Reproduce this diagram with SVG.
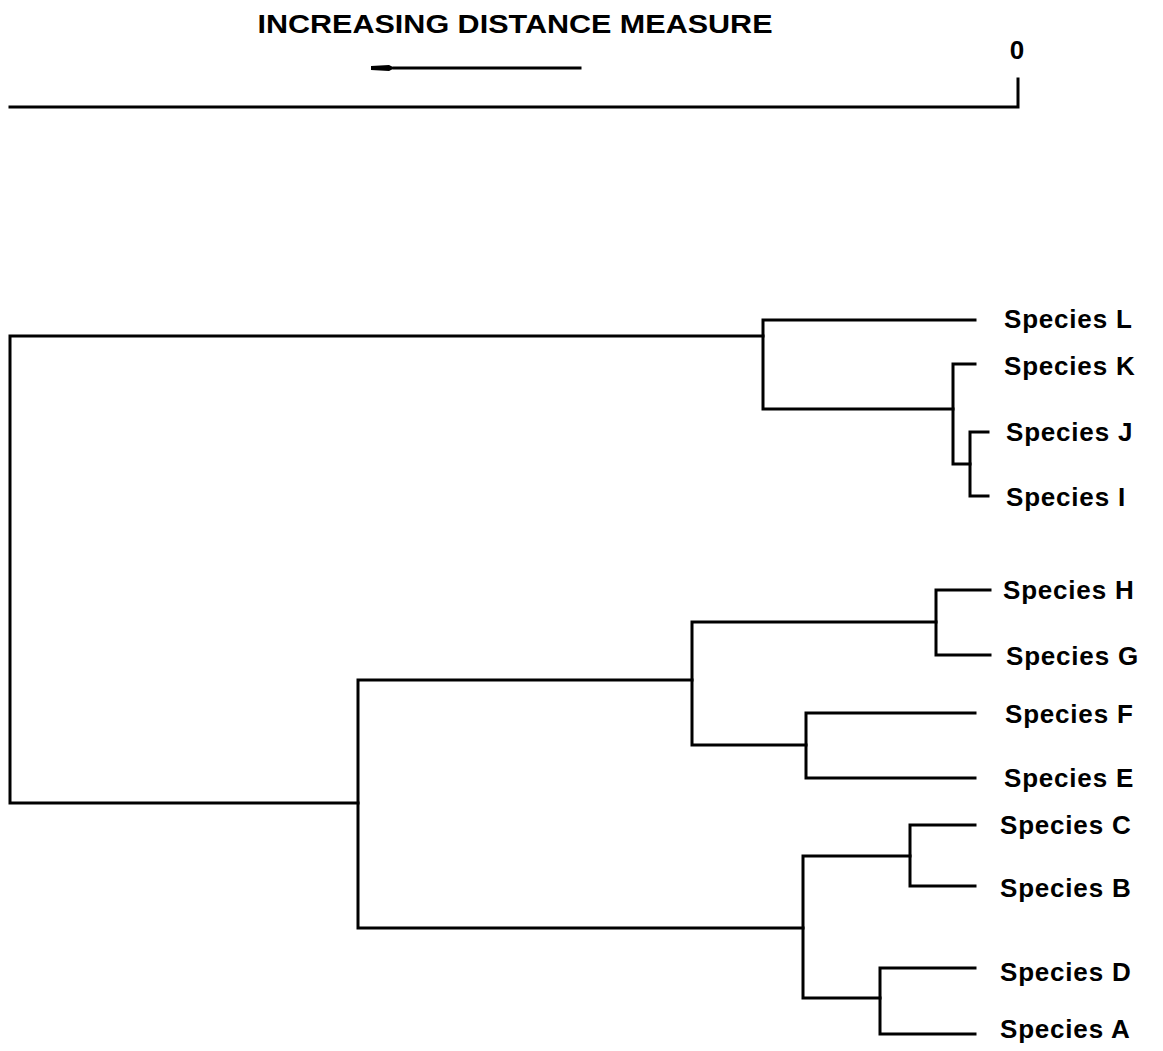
<svg xmlns="http://www.w3.org/2000/svg" width="1163" height="1051" viewBox="0 0 1163 1051">
<style>
.ln{stroke:#000;stroke-width:3;fill:none;stroke-linecap:square;stroke-linejoin:miter}
.lb{font-family:"Liberation Sans",Arial,sans-serif;font-size:26px;font-weight:bold;fill:#000;letter-spacing:0.8px}
.tt{font-family:"Liberation Sans",Arial,sans-serif;font-size:26px;font-weight:bold;fill:#000}
</style>
<defs>
<marker id="ah" markerWidth="24" markerHeight="8" refX="1" refY="4" orient="auto" markerUnits="userSpaceOnUse">
<path d="M0,4 L6,1 L24,2 L24,6 L6,7 Z" fill="#000"/>
</marker>
</defs>
<rect width="1163" height="1051" fill="#fff"/>
<g id="scale">
<text class="tt" x="515" y="33" text-anchor="middle" textLength="515" lengthAdjust="spacingAndGlyphs">INCREASING DISTANCE MEASURE</text>
<line class="ln" x1="580" y1="68" x2="394" y2="68" marker-end="url(#ah)"/>
<text class="tt" x="1017" y="59" text-anchor="middle">0</text>
<polyline class="ln" points="10,107 1018,107 1018,79"/>
</g>
<g id="connectors">
<path class="ln" d="M763,336 H10 V803 H358"/>
<path class="ln" d="M975,320 H763 V409 H953"/>
<path class="ln" d="M975,364 H953 V464 H970"/>
<path class="ln" d="M988,432 H970 V496 H988"/>
<path class="ln" d="M692,680 H358 V928 H803"/>
<path class="ln" d="M936,622 H692 V745 H806"/>
<path class="ln" d="M990,590 H936 V655 H990"/>
<path class="ln" d="M975,713 H806 V778 H975"/>
<path class="ln" d="M910,856 H803 V998 H880"/>
<path class="ln" d="M975,825 H910 V886 H975"/>
<path class="ln" d="M975,968 H880 V1034 H975"/>
</g>
<g id="node-L"><text class="lb" x="1004" y="328">Species L</text></g>
<g id="node-K"><text class="lb" x="1004" y="375">Species K</text></g>
<g id="node-J"><text class="lb" x="1006" y="441">Species J</text></g>
<g id="node-I"><text class="lb" x="1006" y="506">Species I</text></g>
<g id="node-H"><text class="lb" x="1003" y="599">Species H</text></g>
<g id="node-G"><text class="lb" x="1006" y="665">Species G</text></g>
<g id="node-F"><text class="lb" x="1005" y="723">Species F</text></g>
<g id="node-E"><text class="lb" x="1004" y="787">Species E</text></g>
<g id="node-C"><text class="lb" x="1000" y="834">Species C</text></g>
<g id="node-B"><text class="lb" x="1000" y="897">Species B</text></g>
<g id="node-D"><text class="lb" x="1000" y="981">Species D</text></g>
<g id="node-A"><text class="lb" x="1000" y="1038">Species A</text></g>
</svg>
